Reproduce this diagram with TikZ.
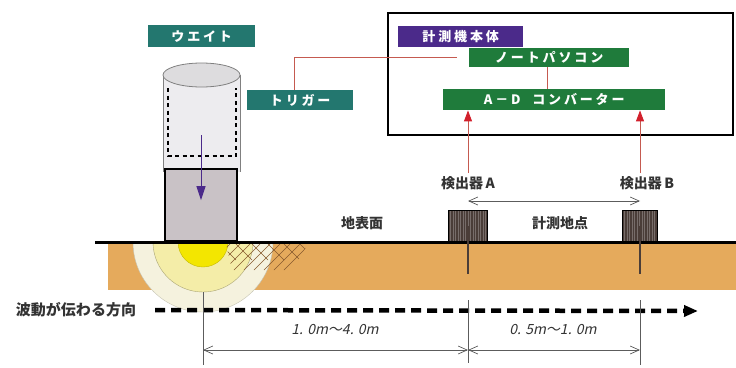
\documentclass[tikz,border=0pt]{standalone}
\usepackage{fontspec}
\newfontfamily\jp{Noto Sans CJK JP}
\newfontfamily\jpwide[LetterSpace=22]{Noto Sans CJK JP}
\newfontfamily\jpslant[FakeSlant=0.22]{Noto Sans CJK JP}
\usepackage{tikz}
\usetikzlibrary{arrows.meta,positioning,calc}

\definecolor{tagteal}{HTML}{23776F}
\definecolor{tagpurple}{HTML}{4B2A8A}
\definecolor{taggreen}{HTML}{1F7B3B}
\definecolor{soil}{HTML}{E5AA5C}
\definecolor{waveouter}{HTML}{F5F2DE}
\definecolor{wavemid}{HTML}{F4EDA8}
\definecolor{wavecore}{HTML}{F3E600}
\definecolor{sigred}{HTML}{C55A50}
\definecolor{tipred}{HTML}{D2202C}
\definecolor{blockgray}{HTML}{C9C2C6}
\definecolor{cylgray}{HTML}{EDECEF}
\definecolor{probe}{HTML}{4A3D38}
\definecolor{ink}{HTML}{333333}

\tikzset{
  tag/.style={fill=#1, text=white, anchor=north west, inner sep=0pt,
    font=\jpwide\bfseries\fontsize{13}{13}\selectfont},
  caption/.style={text=ink, inner sep=1pt, font=\jp\bfseries\fontsize{14}{14}\selectfont},
  sigline/.style={draw=sigred, line width=0.9pt},
  sigarrow/.style={sigline, -{Triangle[length=11pt,width=8pt,color=tipred,fill=tipred]}},
  dimline/.style={draw=ink!80, line width=0.7pt},
  dimarrow/.style={dimline, {Straight Barb[length=9pt,width=8pt]}-{Straight Barb[length=9pt,width=8pt]}},
  detector/.style={fill=probe, draw=black, line width=1pt, anchor=south west, minimum height=31pt},
  waveline/.style={line width=4.5pt, dash pattern=on 10pt off 6pt,
    -{Triangle[length=14pt,width=11pt]}}
}

\begin{document}
\begin{tikzpicture}[x=1pt,y=-1pt]
  \useasboundingbox (0,0) rectangle (736,367);

  % soil and impact waves
  \fill[soil] (108,244) rectangle (736,290);
  \coordinate (impact) at (203,242);
  \draw[fill=waveouter, draw=waveouter!80!black] (133,242) arc[start angle=180, end angle=0, radius=70] -- cycle;
  \draw[fill=wavemid, draw=wavemid!70!black] (153,242) arc[start angle=180, end angle=0, radius=50] -- cycle;
  \draw[fill=wavecore, draw=wavecore!80!black] (178,242) arc[start angle=180, end angle=0, radius=25] -- cycle;
  \begin{scope}
    \clip (226,244) -- (308,244) -- (292,270) -- (232,270) -- cycle;
    \foreach \x in {210,220,...,320}
      \draw[brown!70!black, line width=0.6pt] (\x,244) -- ++(-26,26);
    \foreach \x in {220,236,...,320}
      \draw[brown!70!black, line width=0.6pt] (\x,244) -- ++(16,16);
  \end{scope}
  \draw[line width=3pt] (95,242) -- (736,242);

  % weight
  \fill[cylgray] (163,75) rectangle (240,172);
  \draw[gray, line width=0.8pt] (163,75) -- (163,172) (240,75) -- (240,172);
  \draw[gray, fill=cylgray!85!gray, line width=0.8pt] (201.5,75) ellipse [x radius=38.5, y radius=12];
  \draw[line width=1.7pt, dash pattern=on 4pt off 3.5pt] (168,88) -- (168,156) -- (236,156) -- (236,88);
  \node[draw, fill=blockgray, line width=1.6pt, minimum width=72pt, minimum height=72pt,
    inner sep=0pt, anchor=south] (block) at (201,242) {};
  \coordinate (drop) at (201,135);
  \draw[draw=tagpurple, line width=1pt, -{Triangle[length=14pt,width=9pt]}] (drop) -- ([yshift=5pt]block.center);

  \node[tag=tagteal, minimum width=107pt, minimum height=22pt] (weight) at (148,25) {ウエイト};
  \node[tag=tagteal, minimum width=106pt, minimum height=20pt] (trigger) at (247,90) {トリガー};

  % measuring unit
  \draw[line width=2.2pt] (388,13) rectangle (733,135);
  \node[tag=tagpurple, minimum width=125pt, minimum height=21pt] (unit) at (398,26) {計測機本体};
  \node[tag=taggreen, minimum width=160pt, minimum height=19pt] (pc) at (469,48) {ノートパソコン};
  \node[tag=taggreen, minimum width=222pt, minimum height=21pt] (adc) at (443,89) {A－D\ \ コンバーター};
  \draw[sigline, shorten >=12pt] (trigger.north -| 294,0) |- (pc.west);
  \draw[sigline] (pc.south -| 547,0) -- (adc.north -| 547,0);

  % detectors
  \node[detector, minimum width=39pt] (detA) at (448,242) {};
  \node[detector, minimum width=35pt] (detB) at (622,242) {};
  \foreach \d/\w in {detA/38,detB/34}
    \foreach \i in {2.5,5,...,\w}
      \draw[probe!75!white, line width=0.4pt] ([xshift=\i pt, yshift=1pt]\d.south west) -- ([xshift=\i pt, yshift=-1pt]\d.north west);
  \draw[probe, line width=2pt] (detA.center) -- ++(0,48);
  \draw[probe, line width=2pt] (detB.center) -- ++(0,48);

  \node[caption] (lblA) at (468,183) {検出器\,A};
  \node[caption] (lblB) at (647,183) {検出器\,B};
  \draw[sigarrow] ([yshift=2pt]lblA.north -| detA) -- (adc.south -| detA);
  \draw[sigarrow] ([yshift=2pt]lblB.north -| detB) -- (adc.south -| detB);
  \draw[dimarrow] ([yshift=9pt]detA.north) -- ([yshift=9pt]detB.north);
  \node[caption] (spot) at (560,223) {計測地点};
  \node[caption] (surface) at (362,223) {地表面};

  % wave direction
  \node[caption, font=\jp\bfseries\fontsize{15}{15}\selectfont] (dir) at (76,310) {波動が伝わる方向};
  \coordinate (waveend) at (698,311);
  \draw[waveline] ([xshift=18pt]dir.east) -- (waveend);

  % distances
  \draw[dimline] (impact |- 0,292) -- (impact |- 0,365);
  \draw[dimline] (detA |- 0,300) -- (detA |- 0,363);
  \draw[dimline] (detB |- 0,300) -- (detB |- 0,365);
  \draw[dimarrow] (impact |- 0,350) -- (detA |- 0,350);
  \draw[dimarrow] (detA |- 0,350) -- (detB |- 0,350);
  \node[text=ink, font=\jpslant\fontsize{14}{14}\selectfont] (farlbl) at (335,330) {1. 0m～4. 0m};
  \node[text=ink, font=\jpslant\fontsize{14}{14}\selectfont] (nearlbl) at (553,330) {0. 5m～1. 0m};
\end{tikzpicture}
\end{document}
